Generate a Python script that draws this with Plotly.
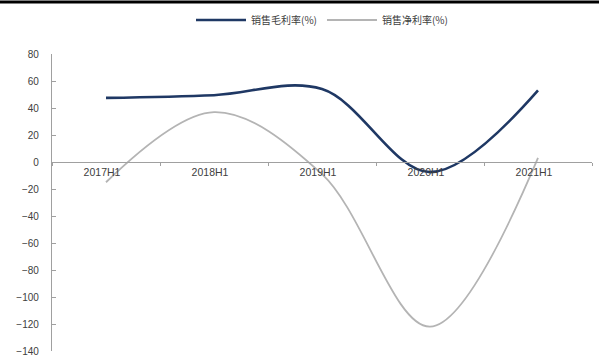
import plotly.graph_objects as go

categories = ["2017H1", "2018H1", "2019H1", "2020H1", "2021H1"]
gross_margin = [47.5, 49.5, 54.0, -7.5, 53.0]
net_margin = [-15.0, 37.0, -9.0, -122.0, 3.0]
series_names = ["销售毛利率(%)", "销售净利率(%)"]
y_ticks = [80, 60, 40, 20, 0, -20, -40, -60, -80, -100, -120, -140]

W, H = 599, 358
ml, mr, mt, mb = 52, 7, 54, 7
pw, ph = W - ml - mr, H - mt - mb

fig = go.Figure()
fig.add_trace(go.Scatter(x=categories, y=gross_margin, name=series_names[0], mode="lines",
                         line=dict(color="#1F3864", width=2.6, shape="spline", smoothing=1.0)))
fig.add_trace(go.Scatter(x=categories, y=net_margin, name=series_names[1], mode="lines",
                         line=dict(color="#B4B4B4", width=1.8, shape="spline", smoothing=1.0)))

ymin, ymax = -140, 80
zero_pos = (0 - ymin) / (ymax - ymin)

fig.update_layout(
    width=W, height=H,
    margin=dict(l=ml, r=mr, t=mt, b=mb, autoexpand=False),
    paper_bgcolor="white", plot_bgcolor="white",
    font=dict(family="Liberation Sans, Arial, sans-serif", size=10, color="#404040"),
    showlegend=True,
    legend=dict(orientation="h", x=0.5, xanchor="center", y=1 + (mt - 20) / ph, yanchor="middle",
                font=dict(family="Noto Sans CJK SC", size=10, color="#404040"),
                itemwidth=50, tracegroupgap=0, bgcolor="rgba(0,0,0,0)"),
    xaxis=dict(type="category", range=[-0.5, 4.5], anchor="free", position=zero_pos,
               showline=True, linecolor="#A0A0A0", linewidth=1.2,
               ticks="outside", ticklen=3, tickcolor="#A0A0A0", tickson="boundaries",
               showgrid=False, zeroline=False, ticklabelshift=-4,
               tickfont=dict(size=10.5, color="#404040")),
    yaxis=dict(range=[ymin, ymax], tickvals=y_ticks, showline=True, linecolor="#A0A0A0",
               linewidth=1.2, ticks="inside", ticklen=4, tickcolor="#A0A0A0",
               showgrid=False, zeroline=False, ticklabelstandoff=10,
               tickfont=dict(size=10, color="#404040")),
    shapes=[dict(type="line", xref="paper", yref="paper",
                 x0=-ml / pw, x1=1 + mr / pw, y0=1 + (mt - 2) / ph, y1=1 + (mt - 2) / ph,
                 line=dict(color="black", width=3))],
)

fig.write_html("out.html")
